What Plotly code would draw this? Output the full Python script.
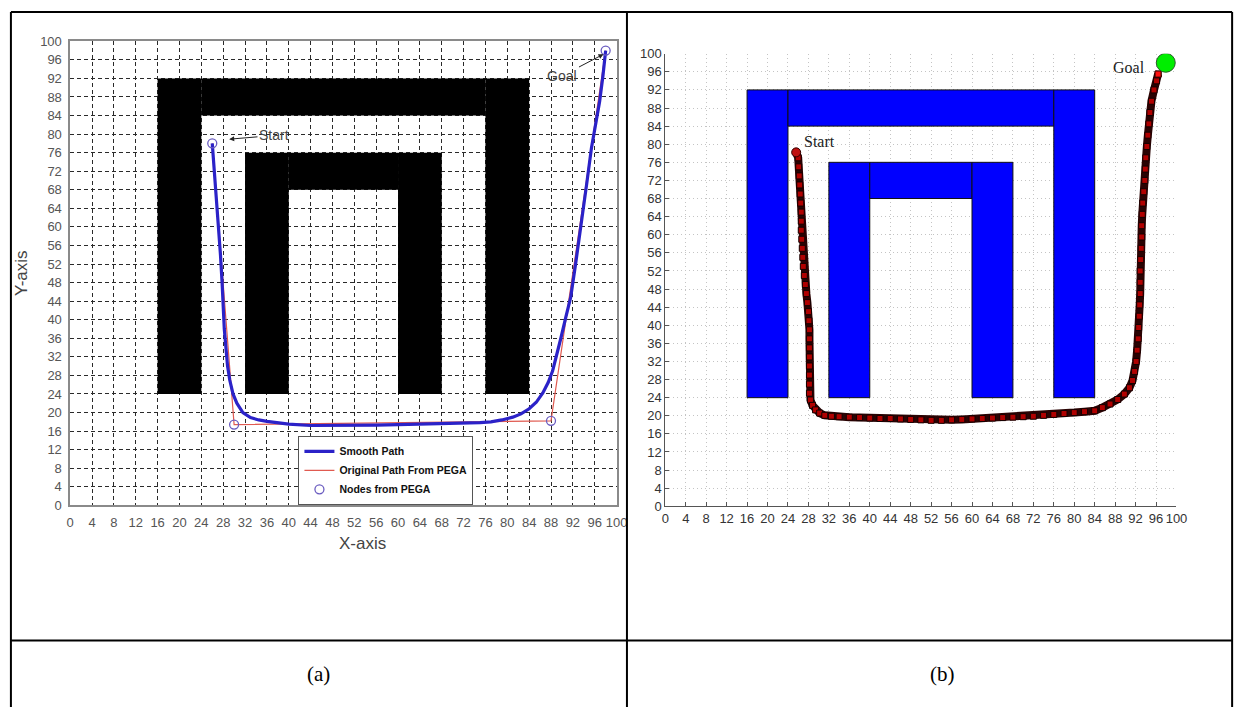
import plotly.graph_objects as go

W, H = 1253, 715

# ---- environment: wall blocks (x0, x1, y0, y1) ----
wall_x0 = [16, 24, 76, 32, 40, 60]
wall_x1 = [24, 76, 84, 40, 60, 68]
wall_y0 = [24, 84, 24, 24, 68, 24]
wall_y1 = [92, 92, 92, 76, 76, 76]

ticks = list(range(0, 101, 4))

# ---- panel (a): PEGA path ----
pega_nodes_x = [26, 30, 88, 98]
pega_nodes_y = [78, 17.4, 18.2, 98]

smooth_x = [26, 26.4, 26.8, 27.2, 27.5, 27.8, 28.0, 28.2, 28.5, 28.8, 29.2, 29.8,
            30.5, 31.6, 33.0, 34.5, 36.0, 38.0, 40.0, 44.0, 48.0, 52.0, 56.0, 60.0,
            64.0, 68.0, 72.0, 75.0, 77.0, 79.0, 81.0, 82.5, 84.0, 85.3, 86.5, 87.5,
            88.3, 89.0, 89.8, 90.7, 91.6, 92.5, 93.5, 94.5, 95.4, 96.2, 96.9, 97.5, 98.0]
smooth_y = [78, 72, 66, 60, 54, 48, 42, 38, 34, 30, 27, 24,
            22, 20, 18.9, 18.4, 18.1, 17.8, 17.5, 17.2, 17.2, 17.3, 17.3, 17.4,
            17.5, 17.5, 17.6, 17.8, 18.0, 18.4, 19.0, 19.7, 20.8, 22.2, 24.2, 26.5,
            29, 32, 36, 40.5, 44.8, 52, 60, 69, 77.0, 82, 87, 92.5, 98]

# ---- panel (b): tracked robot path ----
robot_x = [25.6, 26.0, 26.1, 26.2, 26.3, 26.4, 26.5, 26.6, 26.6, 26.6, 26.7, 26.8,
           26.9, 27.0, 27.2, 27.4, 27.6, 27.8, 28.0, 28.1, 28.2, 28.2, 28.2, 28.2,
           28.2, 28.2, 28.2, 28.2, 28.4, 28.8, 29.4, 30.2, 31.2, 32.5, 34, 36, 38,
           40, 42, 44, 46, 48, 50, 52, 54, 56, 58, 60, 62, 64, 66, 68, 70, 72, 74,
           76, 78, 80, 82, 84, 85.5, 87, 88.5, 89.8, 90.8, 91.4, 91.8, 92.1, 92.3,
           92.5, 92.6, 92.7, 92.8, 92.9, 92.9, 92.9, 93.0, 93.1, 93.2, 93.2, 93.3,
           93.4, 93.6, 93.8, 93.9, 94.0, 94.2, 94.4, 94.6, 94.8, 95.1, 95.6, 96.1, 96.4]
robot_y = [78.2, 77, 75, 73, 71, 69, 67, 65, 63, 61, 59, 57,
           55, 53, 51, 49, 47, 45, 43, 41, 39, 37, 35, 33,
           31, 29, 27, 25, 23.5, 22.3, 21.3, 20.6, 20.1, 19.9, 19.8, 19.7, 19.6,
           19.5, 19.4, 19.4, 19.3, 19.2, 19.1, 19.0, 19.0, 19.1, 19.2, 19.3, 19.4,
           19.5, 19.6, 19.7, 19.8, 19.9, 20.1,
           20.3, 20.5, 20.7, 20.9, 21.1, 21.8, 22.6, 23.6, 24.8, 26.2, 27.8, 29.8, 32, 34.5,
           37, 39.5, 42, 44.5, 47, 49.5, 52, 54.5, 57, 59.5, 62, 64.5,
           67, 69.5, 72, 74.5, 77, 79.5, 82, 84.5, 87, 89.5, 92, 94, 95.5]
goal_b = (97.9, 98)


def px_x(p):
    return p / W


def px_y(p):
    return 1 - p / H


fig = go.Figure()

# panel (a) traces
fig.add_trace(go.Scatter(
    x=pega_nodes_x, y=pega_nodes_y, mode="lines", name="<b>Original Path From PEGA</b>",
    line=dict(color="#e05a50", width=1.2), legendrank=2, xaxis="x", yaxis="y"))
fig.add_trace(go.Scatter(
    x=smooth_x, y=smooth_y, mode="lines", name="<b>Smooth Path</b>",
    line=dict(color="#2b22c8", width=3.2), legendrank=1,
    xaxis="x", yaxis="y"))
fig.add_trace(go.Scatter(
    x=pega_nodes_x, y=pega_nodes_y, mode="markers", name="<b>Nodes from PEGA</b>",
    marker=dict(symbol="circle-open", size=9, color="#6a5cc0", line=dict(width=1.3)),
    legendrank=3, xaxis="x", yaxis="y"))

# panel (b) traces
fig.add_trace(go.Scatter(
    x=robot_x, y=robot_y, mode="lines+markers", showlegend=False,
    line=dict(color="#2a0303", width=8),
    marker=dict(symbol="square", size=6, color="#b00000", line=dict(color="#140000", width=1)),
    xaxis="x2", yaxis="y2"))
fig.add_trace(go.Scatter(
    x=[robot_x[0]], y=[robot_y[0]], mode="markers", showlegend=False,
    marker=dict(symbol="circle", size=9, color="#c01010", line=dict(color="#300", width=1)),
    xaxis="x2", yaxis="y2"))
fig.add_trace(go.Scatter(
    x=[robot_x[-1]], y=[robot_y[-1]], mode="markers", showlegend=False,
    marker=dict(symbol="square", size=6, color="#ff1010", line=dict(color="#400", width=1)),
    xaxis="x2", yaxis="y2"))
fig.add_trace(go.Scatter(
    x=[goal_b[0]], y=[goal_b[1]], mode="markers", showlegend=False,
    marker=dict(symbol="circle", size=19, color="#00ee00", line=dict(color="#2a5a2a", width=1)),
    xaxis="x2", yaxis="y2"))

shapes = []
for x0, x1, y0, y1 in zip(wall_x0, wall_x1, wall_y0, wall_y1):
    shapes.append(dict(type="rect", xref="x", yref="y", x0=x0, x1=x1, y0=y0, y1=y1,
                       fillcolor="black", line=dict(width=0), layer="between"))
    shapes.append(dict(type="rect", xref="x2", yref="y2", x0=x0, x1=x1, y0=y0, y1=y1,
                       fillcolor="#0000ff", line=dict(color="#101010", width=1), layer="between"))

# table rules around the two panels
rule = dict(color="black", width=2)
for (xa, ya, xb, yb) in [(7, 5, 1243, 5), (7, 5, 7, 715), (630.5, 5, 630.5, 715),
                         (1243, 5, 1243, 715), (7, 647, 1243, 647)]:
    shapes.append(dict(type="line", xref="paper", yref="paper",
                       x0=px_x(xa), y0=px_y(ya), x1=px_x(xb), y1=px_y(yb), line=rule))


def label(text, x, y, size, family="Liberation Sans", color="#444", angle=0):
    return dict(text=text, xref="paper", yref="paper", x=px_x(x), y=px_y(y),
                xanchor="center", yanchor="middle", textangle=angle, showarrow=False,
                font=dict(family=family, size=size, color=color))


annotations = [
    label("Y-axis", 18, 272, 17, angle=-90),
    label("X-axis", 363, 548, 17),
    label("(a)", 318, 681, 21, family="Liberation Serif", color="black"),
    label("(b)", 950, 681, 21, family="Liberation Serif", color="black"),
    dict(text="Start", xref="x", yref="y", x=29.1, y=78.9, axref="x", ayref="y", ax=37.3, ay=79.7,
         showarrow=True, arrowhead=2, arrowsize=1, arrowwidth=1, arrowcolor="#222",
         font=dict(family="Liberation Sans", size=14, color="#444")),
    dict(text="Goal", xref="x", yref="y", x=97.6, y=97.2, axref="x", ayref="y", ax=90.1, ay=92.6,
         showarrow=True, arrowhead=2, arrowsize=1, arrowwidth=1, arrowcolor="#222",
         font=dict(family="Liberation Sans", size=14, color="#444")),
    dict(text="Start", xref="x2", yref="y2", x=30.1, y=80.6, showarrow=False,
         xanchor="center", yanchor="middle",
         font=dict(family="Liberation Serif", size=16, color="#222")),
    dict(text="Goal", xref="x2", yref="y2", x=90.8, y=97.0, showarrow=False,
         xanchor="center", yanchor="middle",
         font=dict(family="Liberation Serif", size=16, color="#222")),
]

axis_a = dict(range=[0, 100], tickmode="array", tickvals=ticks, showgrid=True,
              gridcolor="#2a2a2a", gridwidth=1, griddash="4px,3px", zeroline=False,
              showline=True, mirror=True, linecolor="#8a8a8a", linewidth=1.5, ticks="",
              tickfont=dict(family="Liberation Sans", size=13, color="#555"),
              ticklabelstandoff=4, fixedrange=True)
axis_b = dict(range=[0, 100], tickmode="array", tickvals=ticks, showgrid=True,
              gridcolor="#c4c4c4", gridwidth=1, griddash="1px,3px", zeroline=False,
              showline=True, mirror=False, linecolor="#555", linewidth=1, ticks="inside",
              ticklen=4, tickcolor="#555",
              tickfont=dict(family="Liberation Sans", size=13, color="#333"), fixedrange=True)

fig.update_layout(
    width=W, height=H, margin=dict(l=0, r=0, t=0, b=0),
    paper_bgcolor="white", plot_bgcolor="white",
    xaxis=dict(axis_a, domain=[px_x(67), px_x(620)], anchor="y"),
    yaxis=dict(axis_a, domain=[px_y(509), px_y(35)], anchor="x"),
    xaxis2=dict(axis_b, domain=[px_x(669.3), px_x(1186.7)], anchor="y2"),
    yaxis2=dict(axis_b, domain=[px_y(510), px_y(47.7)], anchor="x2"),
    shapes=shapes, annotations=annotations,
    legend=dict(x=px_x(298), y=px_y(438), xanchor="left", yanchor="top",
                bgcolor="white", bordercolor="#555", borderwidth=1,
                font=dict(family="Liberation Sans", size=10.5, color="#111")),
)

fig.write_html("out.html")
